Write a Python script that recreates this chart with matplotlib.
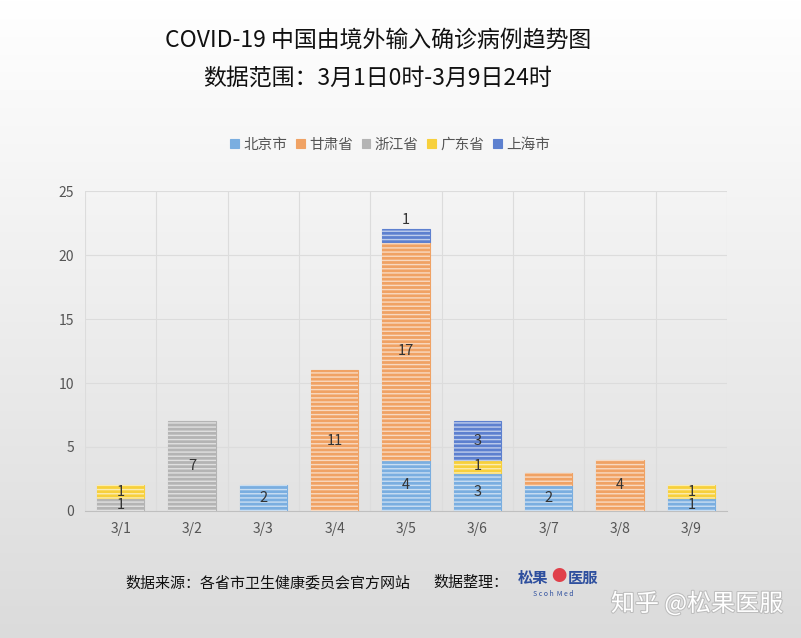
import matplotlib
matplotlib.use("Agg")
import matplotlib.pyplot as plt
import matplotlib.patheffects as pe
import numpy as np

plt.rcParams["font.family"] = ["Noto Sans CJK SC", "DejaVu Sans"]

# ---- data -------------------------------------------------------------------
dates = ["3/1", "3/2", "3/3", "3/4", "3/5", "3/6", "3/7", "3/8", "3/9"]
provinces = ["北京市", "甘肃省", "浙江省", "广东省", "上海市"]
beijing  = [0, 0, 2, 0, 4, 3, 2, 0, 1]
gansu    = [0, 0, 0, 11, 17, 0, 1, 4, 0]
zhejiang = [1, 7, 0, 0, 0, 0, 0, 0, 0]
guangdong = [1, 0, 0, 0, 0, 1, 0, 0, 1]
shanghai = [0, 0, 0, 0, 1, 3, 0, 0, 0]
series = [beijing, gansu, zhejiang, guangdong, shanghai]
colors = ["#7aaee0", "#f0a264", "#b4b4b4", "#f7d03c", "#5d80cf"]

fig = plt.figure(figsize=(8.01, 6.38), dpi=100)

# background gradient
bg = fig.add_axes([0, 0, 1, 1], zorder=-10)
grad = np.linspace(1.0, 0.86, 256).reshape(-1, 1)
bg.imshow(np.dstack([grad, grad, grad]), aspect="auto", extent=[0, 1, 0, 1])
bg.axis("off")

ax = fig.add_axes([85/801, 1 - 511/638, 642/801, 320/638])
ax.set_facecolor("none")
x = np.arange(len(dates))
w = 0.66
bottom = np.zeros(len(dates))
for name, vals, c in zip(provinces, series, colors):
    vals = np.array(vals, dtype=float)
    nz = vals > 0
    ax.bar(x[nz], vals[nz], w, bottom=bottom[nz], color=c, edgecolor=c,
           linewidth=0.8, label=name, zorder=3)
    ax.bar(x[nz], vals[nz], w, bottom=bottom[nz], fill=False, hatch="----",
           edgecolor=(1, 1, 1, 0.6), linewidth=0, zorder=4)
    for i, v in enumerate(vals):
        if v == 0:
            continue
        if dates[i] == "3/7" and name == "甘肃省":
            continue
        if dates[i] == "3/5" and name == "上海市":
            ax.text(i, bottom[i] + v + 0.15, "%d" % v, ha="center", va="bottom",
                    fontsize=10.5, color="#333333", zorder=5)
            continue
        ax.text(i, bottom[i] + v / 2, "%d" % v, ha="center", va="center",
                fontsize=10.5, color="#333333", zorder=5)
    bottom += vals

ax.set_xlim(-0.5, len(dates) - 0.5)
ax.set_ylim(0, 25)
ax.set_yticks(range(0, 26, 5))
ax.set_xticks(x)
ax.set_xticklabels(dates)
ax.set_xticks(np.arange(-0.5, len(dates), 1), minor=True)
ax.grid(True, which="minor", axis="x", color="#dcdcdc", linewidth=0.8, zorder=0)
ax.grid(True, which="major", axis="y", color="#dcdcdc", linewidth=0.8, zorder=0)
ax.tick_params(which="both", length=0, colors="#555555", labelsize=10, pad=8)
for s in ["top", "right", "left"]:
    ax.spines[s].set_visible(False)
ax.spines["bottom"].set_color("#bfbfbf")

ax.legend(loc="center", bbox_to_anchor=(390/801, 1 - 145/638), bbox_transform=fig.transFigure,
          ncol=5, frameon=False, fontsize=10.5, handlelength=0.6, handleheight=0.6,
          handletextpad=0.3, columnspacing=0.6, labelcolor="#555555")

fig.text(378/801, 1 - 40/638, "COVID-19 中国由境外输入确诊病例趋势图",
         ha="center", va="center", fontsize=16.5, color="#111111")
fig.text(378/801, 1 - 78/638, "数据范围：3月1日0时-3月9日24时",
         ha="center", va="center", fontsize=16.5, color="#111111")

fig.text(125/801, 1 - 583/638, "数据来源：各省市卫生健康委员会官方网站",
         ha="left", va="center", fontsize=10.8, color="#111111")
fig.text(433/801, 1 - 583/638, "数据整理：",
         ha="left", va="center", fontsize=10.8, color="#111111")
fig.text(518/801, 1 - 578/638, "松果", ha="left", va="center", fontsize=11,
         color="#2e4f9e", fontweight="bold")
fig.text(568/801, 1 - 578/638, "医服", ha="left", va="center", fontsize=11,
         color="#2e4f9e", fontweight="bold")
fig.text(559/801, 1 - 577/638, "\u25CF", ha="center", va="center", fontsize=11,
         color="#e0404a")
fig.text(553/801, 1 - 594/638, "S c o h  M e d", ha="center", va="center",
         fontsize=5, color="#2e4f9e")
fig.text(697/801, 1 - 604/638, "知乎 @松果医服", ha="center", va="center",
         fontsize=17.3, color="white",
         path_effects=[pe.withStroke(linewidth=1.5, foreground="#bdbdbd")])

fig.savefig("out.png", dpi=100)
